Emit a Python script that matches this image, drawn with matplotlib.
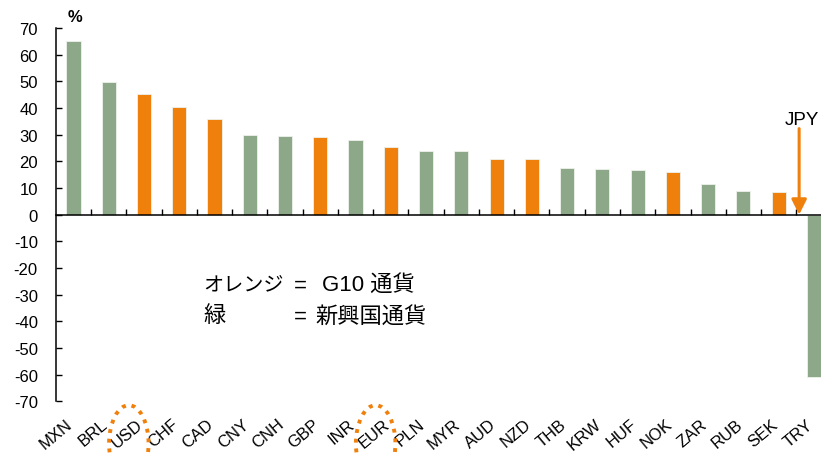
import matplotlib.pyplot as plt
from matplotlib.patches import Ellipse
import matplotlib.transforms as mtransforms

plt.rcParams['font.family'] = ['Liberation Sans', 'DejaVu Sans']

currencies = ["MXN", "BRL", "USD", "CHF", "CAD", "CNY", "CNH", "GBP", "INR", "EUR", "PLN",
              "MYR", "AUD", "NZD", "THB", "KRW", "HUF", "NOK", "ZAR", "RUB", "SEK", "TRY"]
changes = [65.2, 49.9, 45.3, 40.5, 35.9, 30.0, 29.4, 29.1, 27.9, 25.3, 23.9,
           23.9, 20.9, 20.9, 17.7, 17.1, 16.8, 16.0, 11.6, 8.8, 8.6, -60.8]
g10 = ["USD", "CHF", "CAD", "GBP", "EUR", "AUD", "NZD", "NOK", "SEK"]
circled = ["USD", "EUR"]
yticks = list(range(-70, 80, 10))

ORANGE = "#F0800C"
GREEN = "#8DA888"

fig = plt.figure(figsize=(8.21, 4.56), dpi=100)
ax = fig.add_axes([0.068, 0.118, 0.932, 0.818])

x = list(range(len(currencies)))
colors = [ORANGE if c in g10 else GREEN for c in currencies]
ax.bar(x, changes, width=0.4, color=colors, edgecolor="#EEF2EC", linewidth=0.6, zorder=2)

ax.set_xlim(-0.5, 21.2)
ax.set_ylim(-70, 70)
ax.set_yticks(yticks)
ax.set_yticklabels([str(v) for v in yticks], fontsize=12)

# category axis sits on zero, with separator ticks between bars
ax.spines["bottom"].set_position(("data", 0))
ax.spines["top"].set_visible(False)
ax.spines["right"].set_visible(False)
for s in ("left", "bottom"):
    ax.spines[s].set_linewidth(1.1)
    ax.spines[s].set_zorder(3)
ax.set_xticks([i + 0.5 for i in x[:-1]])
ax.set_xticklabels([])
ax.tick_params(axis="x", direction="in", length=4, width=1)
ax.tick_params(axis="y", direction="in", length=4, width=1, pad=13)

# currency labels below the plot area
trans = mtransforms.blended_transform_factory(ax.transData, ax.transAxes)
for i, name in enumerate(currencies):
    ax.text(i + 0.05, -0.04, name, transform=trans, rotation=40,
            ha="right", va="top", fontsize=12, clip_on=False)

# dotted rings around highlighted currencies
for name in circled:
    i = currencies.index(name)
    ax.add_patch(Ellipse((i - 0.43, -86), width=1.12, height=29, fill=False,
                         edgecolor=ORANGE, linestyle=(0, (1, 1.5)), linewidth=2.8,
                         clip_on=False, zorder=4))

fig.text(0.091, 0.962, "%", fontsize=12, fontweight="bold", ha="center", va="center")

# JPY marker
ax.annotate("", xy=(20.58, 0), xytext=(20.58, 32.3),
            arrowprops=dict(arrowstyle="-|>,head_length=0.9,head_width=0.45",
                            color=ORANGE, lw=2.2, shrinkA=0, shrinkB=0), zorder=4)
ax.text(20.66, 32.6, "JPY", fontsize=13.5, ha="center", va="bottom")

jp = ["Liberation Sans", "Noto Sans CJK JP"]
ax.text(3.68, -26.3, "オレンジ", fontsize=14.5, family=jp, va="center")
ax.text(6.25, -26.3, "=", fontsize=16, family=jp, va="center")
ax.text(7.06, -26.3, "G10 通貨", fontsize=16, family=jp, va="center")
ax.text(3.68, -38.0, "緑", fontsize=16, family=jp, va="center")
ax.text(6.25, -38.0, "=", fontsize=16, family=jp, va="center")
ax.text(6.86, -38.0, "新興国通貨", fontsize=16, family=jp, va="center")

fig.savefig("out.png", dpi=100)
